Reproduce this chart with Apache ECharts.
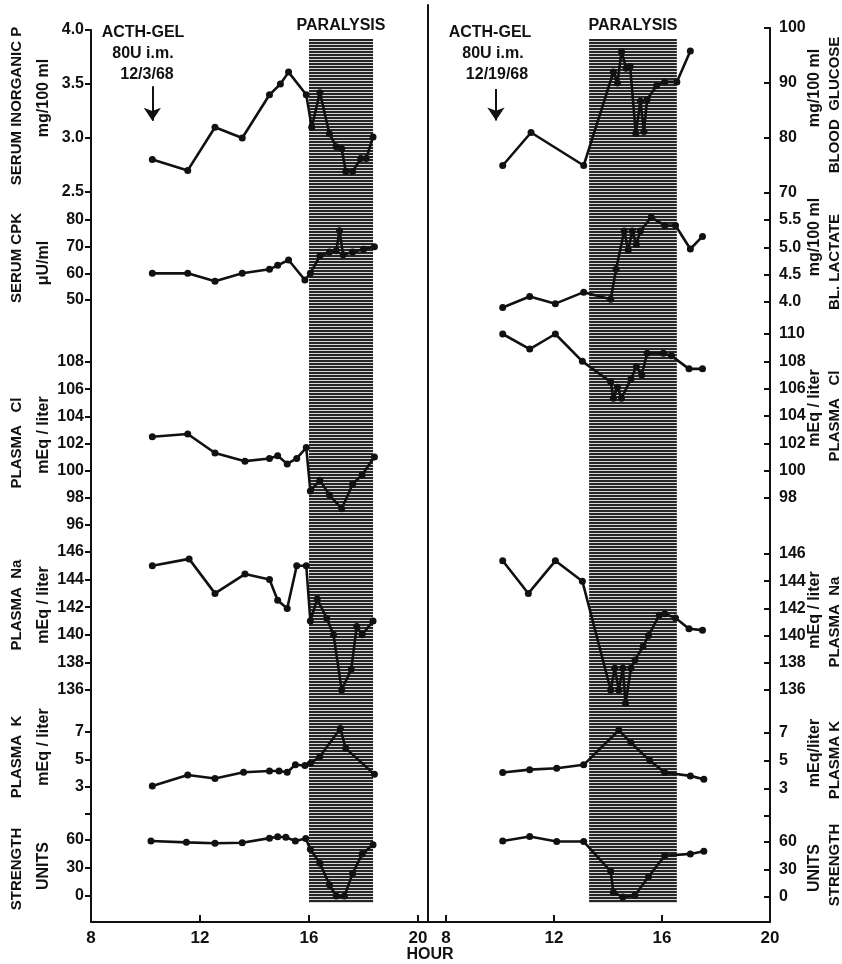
<!DOCTYPE html>
<html><head><meta charset="utf-8">
<script src="https://cdn.jsdelivr.net/npm/echarts@6/dist/echarts.min.js"></script>
<style>html,body{margin:0;padding:0;background:#fff}#c{width:842px;height:964px}</style>
</head><body><div id="c"></div>
<script>
// ===================== DATA =====================
const hourTicks = [8, 12, 16, 20];
const paralysisLeft = [16.0, 18.35];
const paralysisRight = [13.3, 16.55];
const doseHourLeft = 10.25;
const doseHourRight = 9.85;

// Left panel (12/3/68)
const pHoursL = [10.25, 11.55, 12.55, 13.55, 14.55, 14.95, 15.25, 15.9, 16.1, 16.4, 16.75, 17.0, 17.2, 17.35, 17.6, 17.9, 18.1, 18.35];
const pValsL  = [2.80, 2.70, 3.10, 3.00, 3.40, 3.50, 3.61, 3.40, 3.10, 3.42, 3.04, 2.92, 2.90, 2.69, 2.69, 2.81, 2.81, 3.01];
const cpkHoursL = [10.25, 11.55, 12.55, 13.55, 14.55, 14.85, 15.25, 15.85, 16.05, 16.4, 16.75, 17.0, 17.12, 17.25, 17.6, 18.0, 18.4];
const cpkValsL  = [60, 60, 57, 60, 61.5, 63, 65, 57.5, 60, 66.5, 68, 68.5, 76, 67, 68, 69, 70];
const clHoursL = [10.25, 11.55, 12.55, 13.65, 14.55, 14.85, 15.2, 15.55, 15.9, 16.05, 16.4, 16.75, 17.2, 17.6, 17.95, 18.4];
const clValsL  = [102.5, 102.7, 101.3, 100.7, 100.9, 101.1, 100.5, 100.9, 101.7, 98.5, 99.3, 98.2, 97.2, 99.0, 99.7, 101.0];
const naHoursL = [10.25, 11.6, 12.55, 13.65, 14.55, 14.85, 15.2, 15.55, 15.9, 16.05, 16.3, 16.65, 16.9, 17.2, 17.55, 17.75, 17.95, 18.35];
const naValsL  = [145.0, 145.5, 143.0, 144.4, 144.0, 142.5, 141.9, 145.0, 145.0, 141.0, 142.6, 141.2, 140.0, 136.0, 137.5, 140.6, 140.0, 141.0];
const kHoursL = [10.25, 11.55, 12.55, 13.6, 14.55, 14.9, 15.2, 15.5, 15.85, 16.05, 16.4, 17.15, 17.35, 18.4];
const kValsL  = [3.05, 3.85, 3.6, 4.05, 4.15, 4.15, 4.05, 4.6, 4.55, 4.7, 5.2, 7.25, 5.8, 3.9];
const strHoursL = [10.2, 11.5, 12.55, 13.55, 14.55, 14.85, 15.15, 15.5, 15.88, 16.05, 16.4, 16.75, 17.0, 17.3, 17.6, 17.95, 18.35];
const strValsL  = [59, 57.5, 56.5, 57, 62, 63.5, 63, 59, 61.5, 50, 35, 12, 0, 0, 24, 45, 55];

// Right panel (12/19/68)
const gluHoursR = [10.1, 11.15, 13.1, 14.2, 14.35, 14.5, 14.67, 14.82, 15.03, 15.2, 15.33, 15.45, 15.8, 16.1, 16.55, 17.05];
const gluValsR  = [75, 81, 75, 92, 90, 95.7, 92.7, 93, 80.8, 86.7, 81.2, 87, 89.5, 90.2, 90.2, 95.8];
const lacHoursR = [10.1, 11.1, 12.05, 13.1, 14.1, 14.3, 14.6, 14.75, 14.9, 15.05, 15.2, 15.6, 16.1, 16.5, 17.05, 17.5];
const lacValsR  = [3.9, 4.1, 3.97, 4.18, 4.05, 4.6, 5.3, 4.95, 5.3, 5.05, 5.3, 5.55, 5.4, 5.4, 4.97, 5.2];
const clHoursR = [10.1, 11.1, 12.05, 13.05, 14.1, 14.2, 14.35, 14.5, 14.85, 15.05, 15.25, 15.45, 16.05, 16.35, 17.0, 17.5];
const clValsR  = [110, 108.9, 110, 108, 106.5, 105.3, 106.1, 105.3, 106.7, 107.6, 107.0, 108.6, 108.6, 108.4, 107.45, 107.45];
const naHoursR = [10.1, 11.05, 12.05, 13.05, 14.1, 14.25, 14.4, 14.55, 14.65, 14.85, 15.0, 15.3, 15.5, 15.9, 16.1, 16.5, 17.0, 17.5];
const naValsR  = [145.5, 143.1, 145.5, 144.0, 136.0, 137.6, 136.0, 137.6, 135.0, 137.6, 138.2, 139.2, 140.0, 141.5, 141.6, 141.3, 140.5, 140.4];
const kHoursR = [10.1, 11.1, 12.1, 13.1, 14.4, 14.85, 15.55, 16.1, 17.05, 17.55];
const kValsR  = [4.15, 4.35, 4.45, 4.7, 7.2, 6.3, 5.0, 4.15, 3.9, 3.65];
const strHoursR = [10.1, 11.1, 12.1, 13.1, 14.1, 14.2, 14.55, 15.0, 15.5, 16.1, 17.05, 17.55];
const strValsR  = [61, 66, 60.5, 60.5, 28, 5, 0, 2, 22, 45, 47, 50];

// ===================== LAYOUT =====================
const FONT = '"Liberation Sans", Arial, sans-serif';
const INK = '#111';
const L = {left: 91, right: 428, xMin: 8, xMax: 8 + (428 - 91) / 27.25};
const R = {left: 428, right: 770, xMin: 8 - 18 / 27, xMax: 20};
const AXIS_BOTTOM = 922;

const grids = [], xAxes = [], yAxes = [], series = [];
function addGrid(panel, top, bottom, yopt, xopt) {
  const idx = grids.length;
  grids.push({left: panel.left, width: panel.right - panel.left, top: top, height: bottom - top});
  xAxes.push(Object.assign({gridIndex: idx, type: 'value', min: panel.xMin, max: panel.xMax, show: false}, xopt || {}));
  yAxes.push(Object.assign({gridIndex: idx, type: 'value'}, yopt));
  return idx;
}
function lineOnly(side) {
  return {position: side, min: 0, max: 1,
    axisLine: {show: true, onZero: false, lineStyle: {color: INK, width: 2}},
    axisTick: {show: false}, axisLabel: {show: false}, splitLine: {show: false}};
}
function yAx(side, min, max, interval, fmt) {
  return {position: side, min: min, max: max, interval: interval,
    axisLine: {show: true, onZero: false, lineStyle: {color: INK, width: 2}},
    axisTick: {show: true, inside: side === 'right', length: 6, lineStyle: {color: INK, width: 2}},
    axisLabel: {show: true, color: INK, fontFamily: FONT, fontWeight: 'bold', fontSize: 16,
      margin: side === 'left' ? 7 : 9, formatter: fmt},
    splitLine: {show: false}};
}
function xMain() {
  return {show: true,
    axisLine: {show: true, onZero: false, lineStyle: {color: INK, width: 2}},
    axisTick: {show: true, inside: true, length: 7, customValues: hourTicks, lineStyle: {color: INK, width: 2}},
    axisLabel: {show: true, customValues: hourTicks, color: INK, fontFamily: FONT, fontWeight: 'bold', fontSize: 17, margin: 8},
    splitLine: {show: false}};
}

// shading pattern
const pc = document.createElement('canvas'); pc.width = 4; pc.height = 3;
const pg = pc.getContext('2d');
pg.fillStyle = '#d6d6d6'; pg.fillRect(0, 0, 4, 3);
pg.fillStyle = '#262626'; pg.fillRect(0, 0, 4, 2);

function shade(panel, range) {
  const gi = addGrid(panel, 39, 903, {show: false, min: 0, max: 1});
  series.push({type: 'line', xAxisIndex: gi, yAxisIndex: gi, data: [[range[0], 0.5]], showSymbol: false,
    lineStyle: {opacity: 0}, silent: true, z: 1,
    markArea: {silent: true, itemStyle: {color: {image: pc, repeat: 'repeat'}},
      label: {show: true, position: 'top', distance: 5, formatter: 'PARALYSIS', color: INK,
        fontFamily: FONT, fontWeight: 'bold', fontSize: 16},
      data: [[{xAxis: range[0]}, {xAxis: range[1]}]]}});
}
shade(L, paralysisLeft);
shade(R, paralysisRight);

// main frames
addGrid(L, 31, AXIS_BOTTOM, lineOnly('left'), xMain());
addGrid(R, 28, AXIS_BOTTOM, lineOnly('right'), xMain());
addGrid(R, 5, AXIS_BOTTOM, lineOnly('left'));

function zip(h, v) { return h.map((x, i) => [x, v[i]]); }
function plot(gi, hours, vals, extra) {
  series.push(Object.assign({type: 'line', xAxisIndex: gi, yAxisIndex: gi, data: zip(hours, vals),
    symbol: 'circle', symbolSize: 7, clip: false, z: 5,
    lineStyle: {color: INK, width: 2.6}, itemStyle: {color: INK}}, extra || {}));
}
function arrow(x, y0, y1) {
  return {silent: true, symbol: ['none', 'arrow'], symbolSize: 13,
    itemStyle: {color: INK},
    lineStyle: {color: INK, width: 2, type: 'solid'}, label: {show: false},
    data: [[{coord: [x, y0]}, {coord: [x, y1]}]]};
}
const f1 = v => v.toFixed(1);
const kfmt = v => v === 1 ? '' : String(v);

// left sub-plots
let g;
g = addGrid(L, 30, 192, yAx('left', 2.5, 4.0, 0.5, f1));
plot(g, pHoursL, pValsL, {markLine: arrow(doseHourLeft, 3.48, 3.16)});
g = addGrid(L, 220, 300, yAx('left', 50, 80, 10));
plot(g, cpkHoursL, cpkValsL);
g = addGrid(L, 362, 525, yAx('left', 96, 108, 2));
plot(g, clHoursL, clValsL);
g = addGrid(L, 552, 690, yAx('left', 136, 146, 2));
plot(g, naHoursL, naValsL);
g = addGrid(L, 732, 814, yAx('left', 1, 7, 2, kfmt));
plot(g, kHoursL, kValsL);
g = addGrid(L, 840, 896, yAx('left', 0, 60, 30));
plot(g, strHoursL, strValsL);

// right sub-plots
g = addGrid(R, 28, 193, yAx('right', 70, 100, 10));
plot(g, gluHoursR, gluValsR, {markLine: arrow(doseHourRight, 88.9, 83.2)});
g = addGrid(R, 220, 302, yAx('right', 4.0, 5.5, 0.5, f1));
plot(g, lacHoursR, lacValsR);
g = addGrid(R, 334, 498, yAx('right', 98, 110, 2));
plot(g, clHoursR, clValsR);
g = addGrid(R, 554, 690, yAx('right', 136, 146, 2));
plot(g, naHoursR, naValsR);
g = addGrid(R, 733, 816, yAx('right', 1, 7, 2, kfmt));
plot(g, kHoursR, kValsR);
g = addGrid(R, 842, 897, yAx('right', 0, 60, 30));
plot(g, strHoursR, strValsR);

// texts
function txt(x, y, text, size, rot) {
  return {type: 'text', x: x, y: y, rotation: rot ? Math.PI / 2 : 0, silent: true,
    style: {text: text, font: 'bold ' + size + 'px ' + FONT, fill: INK,
      align: 'center', verticalAlign: 'middle', textAlign: 'center', textVerticalAlign: 'middle'}};
}
const graphic = [
  txt(17, 106, 'SERUM INORGANIC P', 15, true),
  txt(44, 98, 'mg/100 ml', 16, true),
  txt(17, 258, 'SERUM CPK', 15, true),
  txt(44, 263, 'μU/ml', 16, true),
  txt(17, 443, 'PLASMA   Cl', 15, true),
  txt(44, 435, 'mEq / liter', 16, true),
  txt(17, 605, 'PLASMA  Na', 15, true),
  txt(44, 605, 'mEq / liter', 16, true),
  txt(17, 757, 'PLASMA  K', 15, true),
  txt(44, 747, 'mEq / liter', 16, true),
  txt(17, 869, 'STRENGTH', 15, true),
  txt(44, 866, 'UNITS', 16, true),

  txt(835, 105, 'BLOOD  GLUCOSE', 15, true),
  txt(815, 88, 'mg/100 ml', 16, true),
  txt(835, 262, 'BL. LACTATE', 15, true),
  txt(815, 237, 'mg/100 ml', 16, true),
  txt(835, 416, 'PLASMA   Cl', 15, true),
  txt(815, 408, 'mEq / liter', 16, true),
  txt(835, 622, 'PLASMA  Na', 15, true),
  txt(815, 610, 'mEq / liter', 16, true),
  txt(835, 760, 'PLASMA K', 15, true),
  txt(815, 753, 'mEq/liter', 16, true),
  txt(835, 865, 'STRENGTH', 15, true),
  txt(815, 868, 'UNITS', 16, true),

  txt(143, 33, 'ACTH-GEL', 16),
  txt(143, 54, '80U i.m.', 16),
  txt(147, 75, '12/3/68', 16),
  txt(490, 33, 'ACTH-GEL', 16),
  txt(493, 54, '80U i.m.', 16),
  txt(497, 75, '12/19/68', 16),
  txt(430, 955, 'HOUR', 16)
];

const chart = echarts.init(document.getElementById('c'), null, {renderer: 'canvas'});
chart.setOption({
  backgroundColor: '#fff',
  animation: false,
  grid: grids, xAxis: xAxes, yAxis: yAxes, series: series, graphic: graphic
});
</script></body></html>
